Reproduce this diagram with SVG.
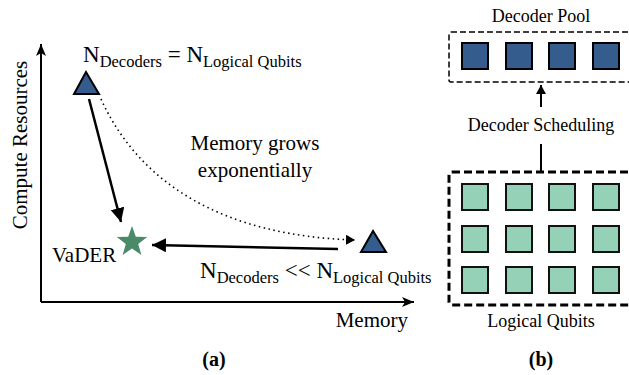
<svg xmlns="http://www.w3.org/2000/svg" width="629" height="375" viewBox="0 0 629 375" font-family="'Liberation Serif', 'Times New Roman', serif">
<defs>
<style>
text{font-family:'Liberation Serif','Times New Roman',serif;fill:#000}
.big{font-size:21px}
.mid{font-size:18px}
.bold{font-size:20px;font-weight:bold}
.blue{fill:#345c8c;stroke:#000;stroke-width:2}
.green{fill:#95d1b7;stroke:#111;stroke-width:2}
</style>
<marker id="ah" markerUnits="userSpaceOnUse" markerWidth="16" markerHeight="14" refX="14" refY="7" orient="auto">
<path d="M0,0 L14,7 L0,14 Z" fill="#000"/>
</marker>
<marker id="ahs" markerUnits="userSpaceOnUse" markerWidth="10" markerHeight="10" refX="9" refY="5" orient="auto">
<path d="M0,0 L9,5 L0,10 Z" fill="#000"/>
</marker>
<marker id="axis" markerUnits="userSpaceOnUse" markerWidth="14" markerHeight="10" refX="12" refY="5" orient="auto">
<path d="M0,0 L12,5 L0,10 L3,5 Z" fill="#000"/>
</marker>
</defs>

<g id="axes">
<line x1="41" y1="302" x2="41" y2="44" stroke="#000" stroke-width="2" marker-end="url(#axis)"/>
<line x1="41" y1="302" x2="414" y2="302" stroke="#000" stroke-width="2" marker-end="url(#axis)"/>
<text class="big" transform="translate(27,145) rotate(-90)" text-anchor="middle">Compute Resources</text>
<text class="big" x="408" y="327" text-anchor="end">Memory</text>
<text class="bold" x="214" y="366" text-anchor="middle">(a)</text>
</g>

<g id="connectors">
<line x1="89" y1="99" x2="121" y2="222" stroke="#000" stroke-width="2.5" marker-end="url(#ah)"/>
<line x1="338" y1="249" x2="152" y2="245" stroke="#000" stroke-width="2.5" marker-end="url(#ah)"/>
<path d="M101,99 C140,185 225,236 355,240" fill="none" stroke="#000" stroke-width="1.6" stroke-dasharray="1.5,3.5" marker-end="url(#ahs)"/>
<line x1="541" y1="107" x2="541" y2="85" stroke="#000" stroke-width="2" marker-end="url(#ahs)"/>
<line x1="541" y1="144" x2="541" y2="172" stroke="#000" stroke-width="2"/>
</g>

<g id="node-full">
<polygon class="blue" points="86,72 74,94 99,94"/>
<text x="83" y="62" font-size="23">N<tspan font-size="16.5" dy="5">Decoders</tspan><tspan dy="-5"> = N</tspan><tspan font-size="16.5" dy="5">Logical Qubits</tspan></text>
</g>

<g id="node-low">
<polygon class="blue" points="373,231 361,252 386,252"/>
<text x="200" y="278" font-size="23">N<tspan font-size="16.5" dy="5">Decoders</tspan><tspan dy="-5"> &lt;&lt; N</tspan><tspan font-size="16.5" dy="5">Logical Qubits</tspan></text>
</g>

<g id="node-vader">
<polygon fill="#4b8a68" points="132,226 135.8,236.8 147.2,237.1 138.2,244.1 141.4,255.1 132,248.6 122.6,255.1 125.8,244.1 116.8,237.1 128.2,236.8"/>
<text class="big" x="52" y="262">VaDER</text>
</g>

<g id="label-memory">
<text class="big" x="255" y="150" text-anchor="middle">Memory grows</text>
<text class="big" x="255" y="177" text-anchor="middle">exponentially</text>
</g>

<g id="decoder-pool">
<text class="mid" x="541" y="22" text-anchor="middle">Decoder Pool</text>
<rect x="449" y="32" width="200" height="50" rx="2" fill="none" stroke="#000" stroke-width="1.5" stroke-dasharray="6,3"/>
<rect class="blue" x="462" y="43" width="26" height="26"/>
<rect class="blue" x="506" y="43" width="26" height="26"/>
<rect class="blue" x="549" y="43" width="26" height="26"/>
<rect class="blue" x="593" y="43" width="26" height="26"/>
</g>

<g id="scheduling">
<text class="mid" x="541" y="131" text-anchor="middle">Decoder Scheduling</text>
</g>

<g id="logical-qubits">
<rect x="449" y="172" width="200" height="133" rx="3" fill="none" stroke="#000" stroke-width="3" stroke-dasharray="8,4"/>
<rect class="green" x="462" y="184" width="26" height="26"/>
<rect class="green" x="506" y="184" width="26" height="26"/>
<rect class="green" x="549" y="184" width="26" height="26"/>
<rect class="green" x="593" y="184" width="26" height="26"/>
<rect class="green" x="462" y="226" width="26" height="26"/>
<rect class="green" x="506" y="226" width="26" height="26"/>
<rect class="green" x="549" y="226" width="26" height="26"/>
<rect class="green" x="593" y="226" width="26" height="26"/>
<rect class="green" x="462" y="267" width="26" height="26"/>
<rect class="green" x="506" y="267" width="26" height="26"/>
<rect class="green" x="549" y="267" width="26" height="26"/>
<rect class="green" x="593" y="267" width="26" height="26"/>
<text class="mid" x="541" y="327" text-anchor="middle">Logical Qubits</text>
<text class="bold" x="541" y="366" text-anchor="middle">(b)</text>
</g>
</svg>
